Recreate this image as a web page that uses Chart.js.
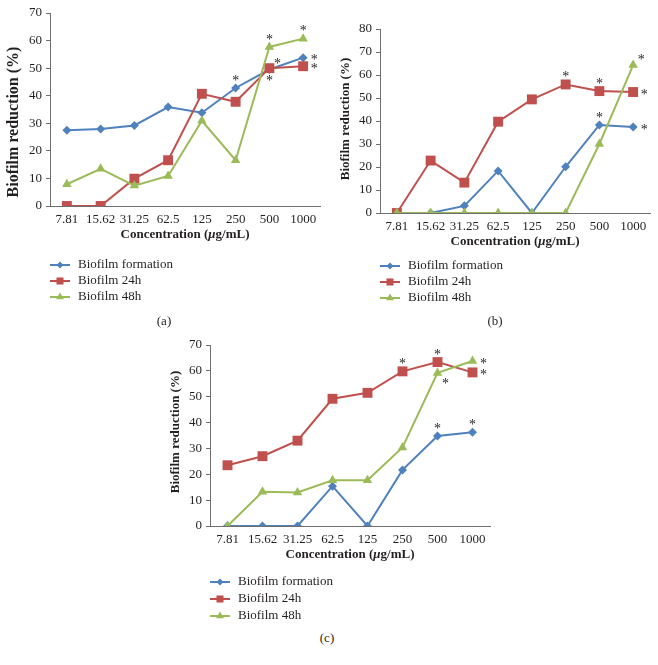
<!DOCTYPE html>
<html>
<head>
<meta charset="utf-8">
<script src="https://cdn.jsdelivr.net/npm/chart.js@4.4.0/dist/chart.umd.min.js"></script>
<style>
  body { margin: 0; background: #fff; }
  #fig { position: relative; width: 658px; height: 665px; font-family: 'Liberation Serif', serif; color: #231f20; }
  .panel { position: absolute; }
  .cap { position: absolute; font-size: 13px; transform: translate(-50%, -50%); }
</style>
</head>
<body>
<div id="fig">
  <div class="panel" style="left:0;top:0"><canvas id="chart-a" width="330" height="330"></canvas></div>
  <div class="panel" style="left:330px;top:0"><canvas id="chart-b" width="328" height="330"></canvas></div>
  <div class="panel" style="left:160px;top:330px"><canvas id="chart-c" width="340" height="300"></canvas></div>
  <div class="cap" style="left:164px;top:321px">(a)</div>
  <div class="cap" style="left:495px;top:321px">(b)</div>
  <div class="cap" style="left:327px;top:638px">(c)</div>
</div>
<script>
// **Globals

const concLabels = ['7.81', '15.62', '31.25', '62.5', '125', '250', '500', '1000'];
const seriesNames = ['Biofilm formation', 'Biofilm 24h', 'Biofilm 48h'];

// panel (a)
const formationA = [27.5, 27.9, 29.2, 35.9, 33.8, 42.8, 49.5, 53.8];
const h24A = [0, 0, 9.9, 16.6, 40.7, 37.8, 50.0, 50.7];
const h48A = [7.9, 13.5, 7.4, 10.9, 30.9, 16.6, 57.7, 60.7];

// panel (b)
const formationB = [0, 0, 3.1, 18.3, 0, 20.1, 38.3, 37.4];
const h24B = [0, 22.8, 13.2, 39.7, 49.4, 55.9, 53.0, 52.6];
const h48B = [0, 0, 0, 0, 0, 0, 30.0, 64.3];

// panel (c)
const formationC = [0, 0, 0, 15.4, 0, 21.7, 34.8, 36.3];
const h24C = [23.5, 27.0, 33.0, 49.2, 51.5, 59.8, 63.4, 59.4];
const h48C = [0, 13.2, 13.0, 17.7, 17.7, 30.4, 59.2, 63.8];

// significance marks: [series, category, where]
const starsA = [[0, 5, 'up'], [2, 6, 'up'], [0, 6, 'upright'], [1, 6, 'down'], [2, 7, 'up'], [0, 7, 'right'], [1, 7, 'right']];
const starsB = [[1, 5, 'up'], [1, 6, 'up'], [1, 7, 'right'], [0, 6, 'up'], [0, 7, 'right'], [2, 7, 'upright']];
const starsC = [[1, 5, 'up'], [1, 6, 'up'], [2, 6, 'downright'], [2, 7, 'right'], [1, 7, 'right'], [0, 6, 'up'], [0, 7, 'up']];

const yTitle = 'Biofilm reduction (%)';

const colors = ['#4f81bd', '#c0504d', '#9bbb59'];
const shapes = ['rectRot', 'rect', 'triangle'];
const radii = [4.5, 7, 5.5];
const legendRadii = [3.5, 5, 4.5];
const inkColor = '#231f20';
const axisColor = '#6f6f6f';
const serif = "'Liberation Serif', serif";

const starOffsets = {
  up: [0, -10],
  right: [11, 0],
  upright: [8, -8],
  down: [0, 10],
  downright: [8, 8]
};

//** Helper functions **/

// y title, legend, x title and stars drawn straight on the canvas
const figurePlugin = {
  id: 'figureExtras',
  afterDraw(chart, args, opts) {
    let ctx = chart.ctx;
    let area = chart.chartArea;
    let xScale = chart.scales.x;
    let yScale = chart.scales.y;

    ctx.save();

    // stars
    ctx.fillStyle = inkColor;
    ctx.font = '14px ' + serif;
    ctx.textAlign = 'center';
    ctx.textBaseline = 'middle';
    opts.stars.forEach(s => {
      let values = chart.data.datasets[s[0]].data;
      let off = starOffsets[s[2]];
      let px = xScale.getPixelForValue(s[1]) + off[0];
      let py = yScale.getPixelForValue(values[s[1]]) + off[1] + 3;
      ctx.fillText('*', px, py);
    });

    // y axis title
    ctx.save();
    ctx.translate(opts.titleX, opts.titleY);
    ctx.rotate(-Math.PI / 2);
    ctx.font = 'bold ' + opts.titleSize + 'px ' + serif;
    ctx.fillText(yTitle, 0, 0);
    ctx.restore();

    // x axis title with italic mu
    let parts = [['Concentration (', 'bold 13px '], ['\u03bc', 'italic bold 13px '], ['g/mL)', 'bold 13px ']];
    let total = 0;
    parts.forEach(p => { ctx.font = p[1] + serif; total += ctx.measureText(p[0]).width; });
    let tx = (area.left + area.right) / 2 - total / 2;
    let ty = area.bottom + 29;
    ctx.textAlign = 'left';
    parts.forEach(p => {
      ctx.font = p[1] + serif;
      ctx.fillText(p[0], tx, ty);
      tx += ctx.measureText(p[0]).width;
    });

    // legend
    let lx = area.left;
    for (let i = 0; i < seriesNames.length; i++) {
      let ly = area.bottom + opts.legendTop + i * opts.legendGap;
      ctx.strokeStyle = colors[i];
      ctx.fillStyle = colors[i];
      ctx.lineWidth = 2;
      ctx.beginPath();
      ctx.moveTo(lx, ly);
      ctx.lineTo(lx + 20, ly);
      ctx.stroke();
      Chart.helpers.drawPoint(ctx, { pointStyle: shapes[i], radius: legendRadii[i], rotation: 0, borderWidth: 0 }, lx + 10, ly);
      ctx.fillStyle = inkColor;
      ctx.font = '13px ' + serif;
      ctx.fillText(seriesNames[i], lx + 28, ly);
    }

    ctx.restore();
  }
};

function makeDataset(i, values) {
  return {
    label: seriesNames[i],
    data: values,
    borderColor: colors[i],
    backgroundColor: colors[i],
    borderWidth: 2,
    pointStyle: shapes[i],
    pointRadius: radii[i],
    pointBackgroundColor: colors[i],
    pointBorderColor: colors[i],
    pointBorderWidth: 0,
    tension: 0,
    order: 2 - i
  };
}

function makeChart(id, sets, yMax, pad, extras) {
  let canvas = document.getElementById(id);
  return new Chart(canvas, {
    type: 'line',
    data: {
      labels: concLabels,
      datasets: sets.map((values, i) => makeDataset(i, values))
    },
    options: {
      responsive: false,
      animation: false,
      layout: { padding: pad },
      plugins: {
        legend: { display: false },
        tooltip: { enabled: false },
        figureExtras: extras
      },
      scales: {
        x: {
          offset: true,
          // invisible ticks keep the label spacing
          grid: { display: true, drawOnChartArea: false, drawTicks: true, tickLength: 4, color: 'rgba(0,0,0,0)', offset: true },
          border: { display: true, color: axisColor, width: 1 },
          ticks: { color: inkColor, font: { family: serif, size: 13 }, padding: 2, maxRotation: 0, autoSkip: false },
          afterFit(scale) { scale.height = 44; }
        },
        y: {
          min: 0,
          max: yMax,
          ticks: { stepSize: 10, color: inkColor, font: { family: serif, size: 13 }, padding: 4 },
          grid: { display: true, drawOnChartArea: false, drawTicks: true, tickLength: 4, color: axisColor },
          border: { display: true, color: axisColor, width: 1 },
          afterFit(scale) { scale.width = 50; }
        }
      }
    },
    plugins: [figurePlugin]
  });
}

//Executable Code

makeChart('chart-a', [formationA, h24A, h48A], 70,
  { top: 13, right: 10, bottom: 80, left: 0 },
  { stars: starsA, legendTop: 59, legendGap: 16, titleX: 14, titleY: 122, titleSize: 16 });

makeChart('chart-b', [formationB, h24B, h48B], 80,
  { top: 29, right: 8, bottom: 73, left: 0 },
  { stars: starsB, legendTop: 53, legendGap: 16, titleX: 16, titleY: 119, titleSize: 13 });

makeChart('chart-c', [formationC, h24C, h48C], 70,
  { top: 15, right: 10, bottom: 60, left: 0 },
  { stars: starsC, legendTop: 56, legendGap: 17, titleX: 16, titleY: 102, titleSize: 13 });
</script>
</body>
</html>
